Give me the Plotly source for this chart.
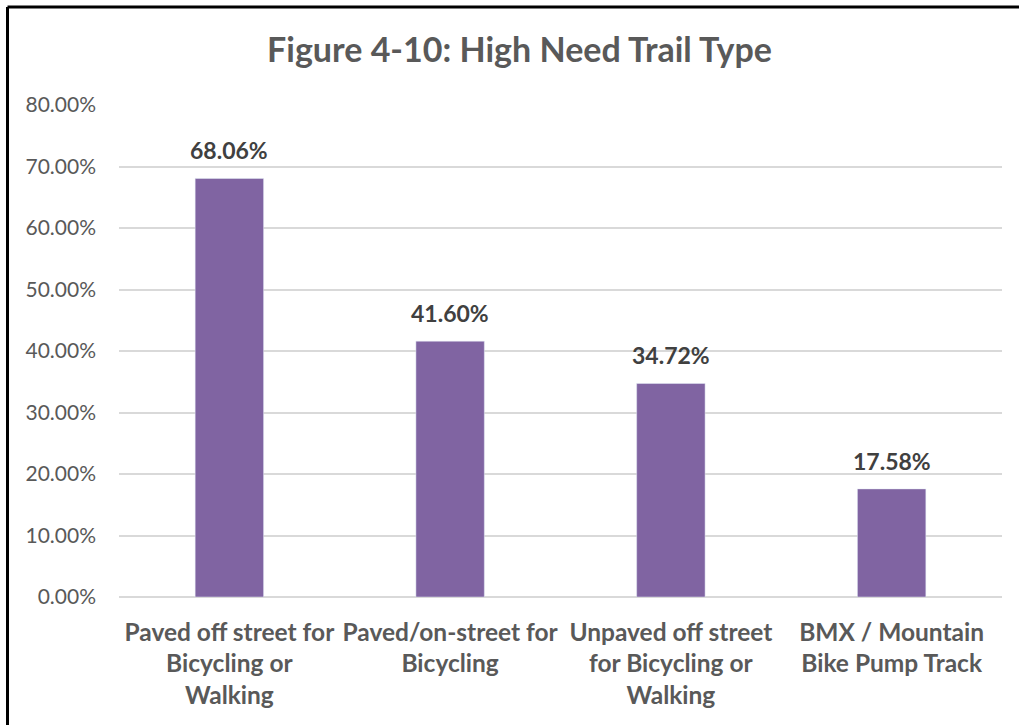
import plotly.graph_objects as go

categories = [
    "Paved off street for<br>Bicycling or<br>Walking",
    "Paved/on-street for<br>Bicycling",
    "Unpaved off street<br>for Bicycling or<br>Walking",
    "BMX / Mountain<br>Bike Pump Track",
]
values = [0.6806, 0.4160, 0.3472, 0.1758]
y_ticks = [0, 0.1, 0.2, 0.3, 0.4, 0.5, 0.6, 0.7, 0.8]

FONT = "Lato, 'Open Sans', sans-serif"
W, H = 1019, 725
ML, MR, MT, MB = 119, 17, 105, 128
pw, ph = W - ML - MR, H - MT - MB

xs = list(range(len(categories)))

fig = go.Figure(
    go.Bar(
        x=xs,
        y=values,
        marker_color="#8064A2",
        width=0.31,
        hoverinfo="skip",
    )
)

for xi, v in zip(xs, values):
    fig.add_annotation(
        x=xi, y=v, xref="x", yref="y",
        text=f"<b>{v * 100:.2f}%</b>",
        showarrow=False, yanchor="bottom", yshift=12,
        font=dict(family=FONT, size=23, color="#404040"),
    )

fig.update_layout(
    width=W,
    height=H,
    margin=dict(l=ML, r=MR, t=MT, b=MB),
    paper_bgcolor="white",
    plot_bgcolor="white",
    showlegend=False,
    title=dict(
        text="<b>Figure 4-10: High Need Trail Type</b>",
        x=519.5 / W,
        xanchor="center",
        y=1 - 50 / H,
        yanchor="middle",
        font=dict(family=FONT, size=34, color="#595959"),
    ),
    xaxis=dict(
        tickmode="array",
        tickvals=xs,
        ticktext=["<b>" + c.replace("<br>", "</b><br><b>") + "</b>" for c in categories],
        tickfont=dict(family=FONT, size=24.5, color="#595959"),
        range=[-0.5, len(categories) - 0.5],
        showgrid=False,
        showline=False,
        ticks="",
        zeroline=False,
        ticklabelstandoff=18,
    ),
    yaxis=dict(
        range=[0, 0.8],
        tickvals=y_ticks,
        tickformat=".2%",
        tickfont=dict(family=FONT, size=21, color="#595959"),
        showgrid=True,
        gridcolor="#D9D9D9",
        gridwidth=1.5,
        zeroline=True,
        zerolinecolor="#D9D9D9",
        zerolinewidth=1.5,
        showline=False,
        ticks="",
        ticklabelstandoff=22,
    ),
)

# outer frame (left and top edges visible in the reference)
x_left = (7.5 - ML) / pw
y_top = (H - MB - 7) / ph
fig.add_shape(type="line", xref="paper", yref="paper",
              x0=x_left, x1=x_left, y0=y_top, y1=-0.4,
              line=dict(color="black", width=3))
fig.add_shape(type="line", xref="paper", yref="paper",
              x0=x_left, x1=1.1, y0=y_top, y1=y_top,
              line=dict(color="black", width=3))

fig.write_html(
    "out.html",
    config={"displayModeBar": False},
    post_script="document.body.style.margin='0';",
)
